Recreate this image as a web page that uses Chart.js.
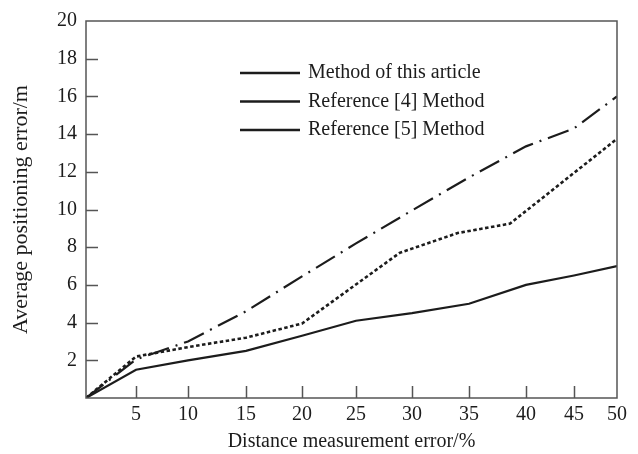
<!DOCTYPE html>
<html>
<head>
<meta charset="utf-8">
<script src="https://cdn.jsdelivr.net/npm/chart.js@4/dist/chart.umd.min.js"></script>
<style>
  html, body { margin: 0; padding: 0; background: #fff; }
  #wrap { width: 638px; height: 454px; }
</style>
</head>
<body>
<div id="wrap"><canvas id="errChart"></canvas></div>
<script>
// data
const errorPct = [0, 5, 10, 15, 20, 25, 30, 35, 40, 45, 50];
const thisMethod = [0, 1.5, 2.0, 2.5, 3.3, 4.1, 4.5, 5.0, 6.0, 6.5, 7.0];
const ref5Method = [0, 2.05, 3.0, 4.6, 6.45, 8.2, 9.95, 11.7, 13.35, 14.3, 16.0];
// dotted line bends between the ticks
const ref4X = [0, 5, 10, 15, 20, 28.9, 34, 38.6, 50];
const ref4Y = [0, 2.2, 2.7, 3.2, 3.95, 7.7, 8.75, 9.25, 13.75];
const yTicks = [2, 4, 6, 8, 10, 12, 14, 16, 18, 20];

const serif = 'Liberation Serif';
const ink = '#1c1c1c';

// the printed x axis is not evenly spaced, so map it piecewise
class WarpScale extends Chart.LinearScale {
  static id = 'warp';
  static defaults = Chart.LinearScale.defaults;
  getPixelForValue(value) {
    const { stops, fracs } = this.options.warp;
    let i = 1;
    while (i < stops.length - 1 && value > stops[i]) i++;
    const t = (value - stops[i - 1]) / (stops[i] - stops[i - 1]);
    return this.getPixelForDecimal(fracs[i - 1] + t * (fracs[i] - fracs[i - 1]));
  }
  getValueForPixel(pixel) {
    const { stops, fracs } = this.options.warp;
    const d = this.getDecimalForPixel(pixel);
    let i = 1;
    while (i < fracs.length - 1 && d > fracs[i]) i++;
    const t = (d - fracs[i - 1]) / (fracs[i] - fracs[i - 1]);
    return stops[i - 1] + t * (stops[i] - stops[i - 1]);
  }
}
Chart.register(WarpScale);

const pairs = (xs, ys) => xs.map((x, i) => ({ x: x, y: ys[i] }));

// box round the plot and the inward tick marks
const frame = {
  id: 'frame',
  afterDraw(chart) {
    const { ctx, chartArea: a, scales: { x, y } } = chart;
    ctx.save();
    ctx.strokeStyle = '#555';
    ctx.lineWidth = 1.5;
    ctx.strokeRect(a.left, a.top, a.right - a.left, a.bottom - a.top);
    ctx.beginPath();
    x.ticks.forEach(t => {
      if (t.value <= 0 || t.value >= 50) return;
      const px = Math.round(x.getPixelForValue(t.value)) + 0.5;
      ctx.moveTo(px, a.bottom);
      ctx.lineTo(px, a.bottom - 12);
    });
    y.ticks.forEach(t => {
      if (t.value <= 0 || t.value >= 20) return;
      const py = Math.round(y.getPixelForValue(t.value)) + 0.5;
      ctx.moveTo(a.left, py);
      ctx.lineTo(a.left + 12, py);
    });
    ctx.stroke();
    ctx.restore();
  }
};

// legend inside the plot, every key drawn as a plain solid line like the print
const keyBox = {
  id: 'keyBox',
  afterDraw(chart) {
    const { ctx } = chart;
    ctx.save();
    ctx.font = '20px "' + serif + '"';
    ctx.fillStyle = ink;
    ctx.strokeStyle = ink;
    ctx.lineWidth = 2.5;
    ctx.textBaseline = 'middle';
    chart.data.datasets.forEach((ds, i) => {
      const yy = 73 + i * 28.5;
      ctx.beginPath();
      ctx.moveTo(240, yy);
      ctx.lineTo(300, yy);
      ctx.stroke();
      ctx.fillText(ds.label, 308, yy);
    });
    ctx.restore();
  }
};

new Chart(document.getElementById('errChart'), {
  type: 'line',
  data: {
    datasets: [
      {
        label: 'Method of this article',
        data: pairs(errorPct, thisMethod),
        borderColor: ink,
        borderWidth: 2.2
      },
      {
        label: 'Reference [4] Method',
        data: pairs(ref4X, ref4Y),
        borderColor: ink,
        borderWidth: 2.6,
        borderDash: [3.5, 2.5]
      },
      {
        label: 'Reference [5] Method',
        data: pairs(errorPct, ref5Method),
        borderColor: ink,
        borderWidth: 2.2,
        borderDash: [22, 7, 2, 7]
      }
    ]
  },
  options: {
    responsive: true,
    maintainAspectRatio: false,
    animation: false,
    layout: { padding: { top: 17, right: 21, left: 0, bottom: 0 } },
    elements: { point: { radius: 0 }, line: { tension: 0, fill: false } },
    plugins: { legend: { display: false }, tooltip: { enabled: false } },
    scales: {
      x: {
        type: 'warp',
        min: 0,
        max: 50,
        warp: {
          stops: errorPct,
          fracs: [0, 0.0942, 0.1921, 0.3013, 0.4068, 0.5085, 0.6139, 0.7213, 0.8286, 0.9190, 1]
        },
        afterFit(scale) { scale.height = 56; },
        grid: { display: false, drawTicks: false },
        border: { display: false },
        ticks: {
          stepSize: 5,
          padding: 5,
          maxRotation: 0,
          autoSkip: false,
          color: ink,
          font: { family: serif, size: 20 },
          callback: v => (v === 0 ? '' : v)
        },
        title: {
          display: true,
          text: 'Distance measurement error/%',
          color: ink,
          font: { family: serif, size: 20 },
          padding: { top: 0, bottom: 0 }
        }
      },
      y: {
        min: 0,
        max: 20,
        afterFit(scale) { scale.width = 86; },
        afterBuildTicks(scale) { scale.ticks = yTicks.map(v => ({ value: v })); },
        grid: { display: false, drawTicks: false },
        border: { display: false },
        ticks: {
          padding: 9,
          color: ink,
          font: { family: serif, size: 20 }
        },
        title: {
          display: true,
          text: 'Average positioning error/m',
          color: ink,
          font: { family: serif, size: 22 },
          padding: { top: 8, bottom: 0 }
        }
      }
    }
  },
  plugins: [frame, keyBox]
});
</script>
</body>
</html>
